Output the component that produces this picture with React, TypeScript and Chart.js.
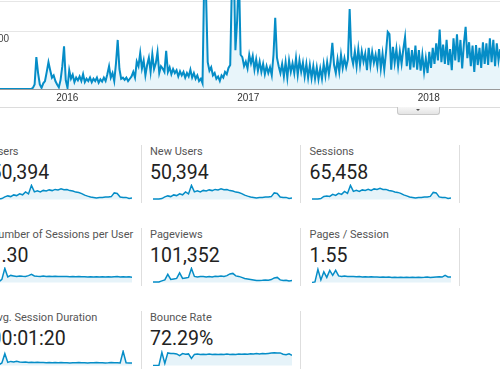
import React, { useEffect, useRef } from "react";
import { Chart, registerables } from "chart.js";

Chart.register(...registerables);

// ---------- main chart data ----------
// x: days relative to 2016-01-01; one value every half week
const FIRST_DAY = -136;
const STEP_DAYS = 3.5;
const X_MIN = -136;
const X_MAX = 875;
const yearTickDays = [0, 366, 731];
const yearLabels = ["2016", "2017", "2018"];
const yGridValues = [0, 100, 153];
const yAxisLabelValue = 100;

const sessions = [
  0, 0, 0, 0, 0, 0, 0, 0, 0, 0,
  0, 0, 0, 0, 0, 0, 0, 0, 0, 2,
  8, 56, 28, 8, 2, 10, 14, 30, 47, 33,
  20, 24, 14, 8, 3, 16, 40, 75, 15, 2,
  33, 18, 25, 12, 20, 15, 22, 14, 26, 12,
  18, 14, 20, 12, 18, 14, 20, 11, 17, 13,
  20, 14, 26, 40, 20, 28, 14, 45, 86, 35,
  18, 20, 16, 20, 14, 18, 22, 30, 20, 48,
  40, 63, 36, 50, 24, 42, 55, 30, 61, 35,
  45, 65, 28, 40, 36, 30, 67, 30, 38, 26,
  35, 28, 33, 22, 31, 24, 30, 20, 28, 22,
  34, 20, 28, 18, 24, 14, 18, 10, 200, 170,
  47, 32, 38, 24, 28, 18, 22, 14, 24, 20,
  30, 26, 37, 42, 190, 230, 68, 120, 210, 60,
  56, 40, 48, 36, 60, 45, 58, 34, 52, 32,
  48, 30, 44, 26, 40, 28, 38, 24, 60, 125,
  55, 40, 28, 44, 22, 47, 20, 50, 30, 45,
  28, 54, 25, 50, 30, 46, 22, 44, 20, 42,
  19, 40, 18, 38, 17, 36, 18, 44, 23, 47,
  26, 48, 81, 42, 28, 52, 30, 60, 37, 54,
  38, 52, 140, 58, 44, 66, 40, 70, 42, 66,
  48, 62, 33, 72, 42, 65, 46, 60, 40, 70,
  36, 62, 34, 64, 100, 96, 34, 74, 46, 70,
  40, 66, 44, 70, 91, 40, 72, 34, 68, 38,
  76, 34, 68, 32, 60, 30, 54, 28, 65, 37,
  72, 44, 80, 50, 104, 47, 78, 44, 86, 42,
  70, 33, 89, 50, 96, 47, 86, 36, 80, 109,
  54, 82, 40, 76, 30, 77, 42, 72, 37, 82,
  44, 80, 42, 89, 47, 86, 40, 80, 50, 70,
];

// ---------- sparkline data (relative values) ----------
const usersSpark = [0.4, 0.4, 0.4, 0.8, 2.5, 3.5, 2.8, 4.5, 3.8, 5.5, 4.6, 7.5, 5.5, 14, 7.5, 8.5, 7.5, 9, 8.5, 9.5, 8.8, 10, 9.5, 10.5, 9.6, 9.8, 8.8, 8.3, 7.3, 6.8, 5.8, 4.3, 3.3, 2.5, 2, 1.5, 1.8, 2, 2.3, 2.4, 2.8, 6.5, 6, 2.4, 1.9, 2, 1, 1.4];
const newUsersSpark = [0.4, 0.4, 0.4, 0.8, 2.5, 3.5, 2.8, 4.5, 3.8, 5.5, 4.6, 7.5, 5.5, 14, 7.5, 8.5, 7.5, 9, 8.5, 9.5, 8.8, 10, 9.5, 10.5, 9.6, 9.8, 8.8, 8.3, 7.3, 6.8, 5.8, 4.3, 3.3, 2.5, 2, 1.5, 1.8, 2, 2.3, 2.4, 2.8, 6.5, 6, 2.4, 1.9, 2, 1, 1.4];
const sessionsSpark = [0.5, 0.5, 0.5, 0.8, 3, 3.5, 3, 5, 4, 6, 5, 8, 6, 14, 8, 9, 8, 9.5, 9, 10, 9, 10.5, 10, 11, 10, 10, 9, 8.5, 7.5, 7, 6, 4.5, 3.5, 2.5, 2, 1.5, 2, 2, 2.5, 2.5, 3, 7, 6.5, 2.5, 2, 2, 1, 1.5];
const perUserSpark = [0, 0, 0.5, 3, 14, 5.5, 7, 6.5, 6, 6.5, 6.2, 6, 6.8, 8, 6.5, 6.2, 6, 6.3, 6, 6.2, 5.9, 6.1, 5.8, 6, 5.8, 6, 5.7, 5.9, 5.6, 5.8, 5.6, 5.7, 5.5, 5.7, 5.5, 5.6, 5.4, 5.6, 5.5, 5.7, 5.4, 5.6, 5.8, 5.5, 5.7, 5.3, 5.6, 5.2];
const pageviewsSpark = [0.4, 0.4, 0.5, 1.5, 2.5, 8, 3, 3.5, 4, 9.5, 4, 4.5, 5, 14, 6, 5.5, 6, 5.8, 5.5, 6, 5.5, 6.2, 5.8, 6.5, 6, 6.8, 8.5, 9, 6.5, 6, 5, 4, 3.5, 3, 2.5, 2, 2, 2.2, 2.5, 2.2, 2.8, 4.5, 5, 2.5, 2, 2.2, 1.5, 1.8];
const pagesSessionSpark = [0, 0.5, 13, 2.5, 10.5, 5, 12, 7, 12, 6.5, 6, 6.5, 6, 5.8, 6, 5.6, 5.8, 5.5, 5.7, 5.4, 5.6, 5.3, 5.5, 5.2, 5.4, 5.1, 5.3, 5.0, 5.2, 5.0, 5.2, 4.9, 5.1, 4.9, 5.1, 5.0, 5.2, 5.0, 5.1, 5.3, 5.0, 5.2, 5.4, 5.6, 5.3, 7, 5.5, 5.3];
const avgDurationSpark = [0, 0, 0.5, 2.5, 11.7, 3, 4, 3.5, 4.2, 3.5, 3.2, 3.4, 3, 3.2, 2.9, 3.1, 2.8, 3, 2.7, 2.9, 2.7, 2.8, 2.6, 2.8, 2.6, 2.7, 2.5, 2.7, 2.6, 2.8, 2.6, 2.7, 2.5, 2.7, 2.6, 2.8, 2.6, 2.7, 2.5, 2.6, 2.8, 2.6, 2.7, 2.5, 14, 2.6, 2.3, 2.5];
const bounceSpark = [0, 0, 0, 13, 2, 12.5, 11.8, 12, 11.5, 9.7, 11.8, 11.2, 11.5, 7, 11, 11.3, 10.8, 11.2, 10.9, 11.3, 10.8, 11.2, 10.9, 11.1, 10.8, 11.3, 10.9, 11.2, 11, 11.4, 11.1, 11.5, 11.2, 11.6, 11.4, 11.8, 11.5, 11.8, 11.6, 12, 12.4, 12.6, 12.3, 12.5, 11.2, 10.6, 11.5, 10.2];

const metricNames = [
  "Users",
  "New Users",
  "Sessions",
  "Number of Sessions per User",
  "Pageviews",
  "Pages / Session",
  "Avg. Session Duration",
  "Bounce Rate",
];
const metricValues = ["50,394", "50,394", "65,458", "1.30", "101,352", "1.55", "00:01:20", "72.29%"];
const metricSparks = [usersSpark, newUsersSpark, sessionsSpark, perUserSpark, pageviewsSpark, pagesSessionSpark, avgDurationSpark, bounceSpark];

const BLUE = "#058dc7";
const FILL = "rgba(5,141,199,0.09)";

function ChartCanvas({ left, top, width, height, build }: { left: number; top: number; width: number; height: number; build: () => any }) {
  const ref = useRef<HTMLCanvasElement>(null);
  useEffect(() => {
    const chart = new Chart(ref.current as HTMLCanvasElement, build());
    return () => chart.destroy();
  }, []);
  return (
    <canvas
      ref={ref}
      width={width}
      height={height}
      style={{ position: "absolute", left, top, width, height }}
    />
  );
}

const yLabelPlugin = {
  id: "yLabel",
  afterDraw(chart: any) {
    const { ctx, chartArea } = chart;
    const y = chart.scales.y;
    ctx.save();
    ctx.font = '10px "Liberation Sans", Arial, sans-serif';
    ctx.fillStyle = "#444";
    ctx.textAlign = "right";
    ctx.textBaseline = "middle";
    ctx.fillText(String(yAxisLabelValue), chartArea.left + 9, y.getPixelForValue(yAxisLabelValue) + 7);
    ctx.restore();
  },
};

function buildMain() {
  return {
    type: "line",
    data: {
      datasets: [
        {
          data: sessions.map((v, i) => ({ x: FIRST_DAY + i * STEP_DAYS, y: v })),
          borderColor: BLUE,
          borderWidth: 2,
          backgroundColor: FILL,
          fill: "origin",
          pointRadius: 0,
          tension: 0,
        },
      ],
    },
    options: {
      animation: false,
      responsive: false,
      events: [],
      layout: { padding: 0 },
      plugins: { legend: { display: false }, tooltip: { enabled: false } },
      scales: {
        x: {
          type: "linear",
          min: X_MIN,
          max: X_MAX,
          grid: { display: false, drawTicks: false },
          border: { display: true, color: "#9a9a9a", width: 1 },
          afterBuildTicks: (s: any) => {
            s.ticks = yearTickDays.map((v) => ({ value: v }));
          },
          afterFit: (s: any) => {
            s.height = 20;
          },
          ticks: {
            autoSkip: false,
            maxRotation: 0,
            padding: 3.7,
            color: "#333",
            font: { family: '"Liberation Sans", Arial, sans-serif', size: 10 },
            callback: (v: number) => {
              const k = yearTickDays.indexOf(v);
              return k >= 0 ? yearLabels[k] : "";
            },
          },
        },
        y: {
          min: 0,
          max: 156,
          afterBuildTicks: (s: any) => {
            s.ticks = yGridValues.map((v) => ({ value: v }));
          },
          grid: {
            drawTicks: false,
            color: (c: any) => (c.tick && c.tick.value === 0 ? "rgba(0,0,0,0)" : "#e6e6e6"),
          },
          border: { display: false },
          ticks: { display: false },
        },
      },
    },
    plugins: [yLabelPlugin],
  };
}

function buildSpark(values: number[]) {
  return () => ({
    type: "line",
    data: {
      labels: values.map((_, i) => i),
      datasets: [
        {
          data: values,
          borderColor: BLUE,
          borderWidth: 1.5,
          backgroundColor: "rgba(5,141,199,0.1)",
          fill: "origin",
          pointRadius: 0,
          tension: 0,
        },
      ],
    },
    options: {
      animation: false,
      responsive: false,
      events: [],
      layout: { padding: 0 },
      plugins: { legend: { display: false }, tooltip: { enabled: false } },
      scales: {
        x: { display: false },
        y: { display: false, min: -0.6, max: 15.4 },
      },
    },
  });
}

const COL_TEXT = [-9.5, 150, 309.5];
const COL_SPARK = [-7, 153, 312];
const COL_SEP = [141, 300, 459];
const ROW_PITCH = 83;

export default function App() {
  return (
    <div
      style={{
        position: "absolute",
        left: 0,
        top: 0,
        width: 500,
        height: 370,
        overflow: "hidden",
        background: "#fff",
        fontFamily: "Roboto, Arial, sans-serif",
      }}
    >
      <ChartCanvas left={0} top={0} width={500} height={109} build={buildMain} />
      <div style={{ position: "absolute", left: 0, top: 107, width: 500, height: 1, background: "#dcdcdc" }} />
      <div
        style={{
          position: "absolute",
          left: 397,
          top: 107,
          width: 41,
          height: 7,
          background: "linear-gradient(#f7f7f7, #e4e4e4)",
          border: "1px solid #c8c8c8",
          borderTop: "none",
          borderRadius: "0 0 3px 3px",
        }}
      >
        <div
          style={{
            position: "absolute",
            left: 18,
            top: 1.5,
            width: 0,
            height: 0,
            borderLeft: "2.5px solid transparent",
            borderRight: "2.5px solid transparent",
            borderTop: "2.5px solid #555",
          }}
        />
      </div>
      {metricNames.map((name, i) => {
        const col = i % 3;
        const row = Math.floor(i / 3);
        const dy = row * ROW_PITCH;
        return (
          <React.Fragment key={name}>
            <div
              style={{
                position: "absolute",
                left: COL_TEXT[col],
                top: 145.7 + dy,
                fontSize: 11,
                lineHeight: "11px",
                color: "#555",
                whiteSpace: "nowrap",
              }}
            >
              {name}
            </div>
            <div
              style={{
                position: "absolute",
                left: COL_TEXT[col],
                top: 162.9 + dy,
                fontSize: 19.5,
                lineHeight: "19.5px",
                color: "#222",
                whiteSpace: "nowrap",
              }}
            >
              {metricValues[i]}
            </div>
            <ChartCanvas left={COL_SPARK[col]} top={184 + dy} width={139} height={16} build={buildSpark(metricSparks[i])} />
            <div
              style={{
                position: "absolute",
                left: COL_SEP[col],
                top: 145 + dy,
                width: 1,
                height: 58,
                background: "#dedede",
              }}
            />
          </React.Fragment>
        );
      })}
    </div>
  );
}
